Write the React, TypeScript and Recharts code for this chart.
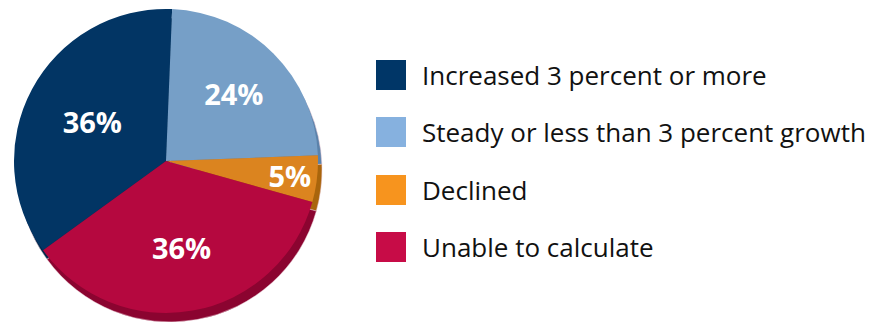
import React from 'react';
import { PieChart, Pie, Cell, Legend } from 'recharts';

// Share of respondents per outcome (percent labels as printed)
const categories = [
  'Increased 3 percent or more',
  'Steady or less than 3 percent growth',
  'Declined',
  'Unable to calculate',
];
const shares = [36, 24, 5, 36];

// top face, side wall and legend swatch colours
const sliceColors = ['#023564', '#769fc7', '#db841f', '#b5083f'];
const wallColors = ['#01284c', '#5b82aa', '#a9650c', '#8b0430'];
const legendColors = ['#003667', '#86b1df', '#f7941e', '#c70c47'];

const data = categories.map((name, i) => ({ name, value: shares[i] }));

const CX = 166;
const CY = 161;
const R = 152;
const RAD = Math.PI / 180;

// label distance from centre as a fraction of the radius
const labelRadius = [0.55, 0.63, 0.82, 0.58];

const renderLabel = (props: any) => {
  const { cx, cy, midAngle, outerRadius, index, value } = props;
  const r = outerRadius * labelRadius[index];
  const x = cx + r * Math.cos(-midAngle * RAD);
  const y = cy + r * Math.sin(-midAngle * RAD);
  return (
    <text
      x={x}
      y={y}
      fill="#ffffff"
      textAnchor="middle"
      dominantBaseline="central"
      style={{ fontFamily: '"Open Sans", sans-serif', fontWeight: 700, fontSize: 29 }}
    >
      {`${value}%`}
    </text>
  );
};

const renderLegend = () => (
  <div style={{ fontFamily: '"Open Sans", sans-serif', fontSize: 26, color: '#111' }}>
    {categories.map((c, i) => (
      <div key={c} style={{ display: 'flex', alignItems: 'center', height: 57.5 }}>
        <div style={{ width: 30, height: 30, background: legendColors[i], marginRight: 16, flexShrink: 0 }} />
        <span style={{ lineHeight: 1, whiteSpace: 'nowrap' }}>{c}</span>
      </div>
    ))}
  </div>
);

export default function App() {
  return (
    <div style={{ position: 'absolute', left: 0, top: 0, background: '#fff' }}>
      <PieChart width={878} height={322} margin={{ top: 0, right: 0, bottom: 0, left: 0 }}>
        {/* side wall, shifted down-right behind the top face */}
        <Pie
          data={data}
          dataKey="value"
          nameKey="name"
          cx={CX + 4}
          cy={CY + 9}
          outerRadius={R}
          startAngle={216}
          endAngle={-144}
          stroke="#e8c9d2"
          strokeWidth={0.5}
          isAnimationActive={false}
          legendType="none"
        >
          {data.map((d, i) => (
            <Cell key={d.name} fill={wallColors[i]} />
          ))}
        </Pie>
        <Pie
          data={data}
          dataKey="value"
          nameKey="name"
          cx={CX}
          cy={CY}
          outerRadius={R}
          startAngle={216}
          endAngle={-144}
          stroke="none"
          label={renderLabel}
          labelLine={false}
          isAnimationActive={false}
        >
          {data.map((d, i) => (
            <Cell key={d.name} fill={sliceColors[i]} />
          ))}
        </Pie>
        <Legend
          content={renderLegend}
          layout="vertical"
          wrapperStyle={{ left: 376, top: 46, width: 500, bottom: 'auto', right: 'auto' }}
        />
      </PieChart>
    </div>
  );
}
